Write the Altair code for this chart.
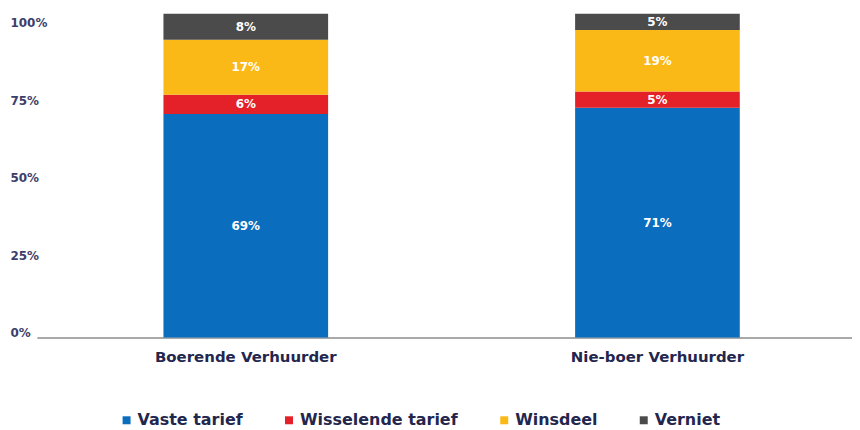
import altair as alt
import pandas as pd

categories = ["Boerende Verhuurder", "Nie-boer Verhuurder"]
series = ["Vaste tarief", "Wisselende tarief", "Winsdeel", "Verniet"]
boerende = [69, 6, 17, 8]
nieboer = [71, 5, 19, 5]
colors = ["#0b6dbd", "#e42128", "#fbb917", "#4b4b4b"]
y_ticks = [0, 25, 50, 75, 100]

rows = []
for cat, vals in zip(categories, [boerende, nieboer]):
    for i, (s, v) in enumerate(zip(series, vals)):
        rows.append({"cat": cat, "series": s, "order": i, "pct": v, "label": f"{v}%"})
df = pd.DataFrame(rows)
ticks_df = pd.DataFrame({"tick": y_ticks})

NAVY = "#23264d"
FONT = "DejaVu Sans"

xenc = alt.X(
    "cat:N",
    sort=categories,
    title=None,
    scale=alt.Scale(paddingInner=0.6, paddingOuter=0.29, align=0.53),
    axis=alt.Axis(
        labelAngle=0,
        labelFont=FONT,
        labelFontWeight="bold",
        labelFontSize=15,
        labelColor=NAVY,
        labelPadding=12,
        labelLimit=400,
        ticks=False,
        domain=True,
        domainColor="#8c8c8c",
        domainWidth=1.5,
        grid=False,
    ),
)

base = alt.Chart(df).transform_stack(
    stack="pct", groupby=["cat"], as_=["y0", "y1"], sort=[alt.SortField("order", order="ascending")]
).transform_calculate(mid="(datum.y0 + datum.y1) / 2")

bars = base.mark_bar().encode(
    x=xenc,
    y=alt.Y("y0:Q", scale=alt.Scale(domain=[0, 100], nice=False), axis=None),
    y2="y1:Q",
    color=alt.Color(
        "series:N",
        scale=alt.Scale(domain=series, range=colors),
        sort=series,
        legend=alt.Legend(
            title=None,
            orient="none",
            direction="horizontal",
            legendX=82,
            legendY=400,
            symbolType="square",
            symbolSize=64,
            symbolStrokeWidth=0,
            labelFont=FONT,
            labelFontWeight="bold",
            labelFontSize=16,
            labelColor=NAVY,
            labelOffset=3,
            columnPadding=38,
        ),
    ),
)

labels = base.mark_text(
    color="white", font=FONT, fontWeight="bold", fontSize=12, baseline="middle"
).encode(
    x=xenc,
    y=alt.Y("mid:Q", scale=alt.Scale(domain=[0, 100], nice=False), axis=None),
    text="label:N",
)

axis_layer = alt.Chart(ticks_df).mark_point(opacity=0).encode(
    y=alt.Y(
        "tick:Q",
        title=None,
        scale=alt.Scale(domain=[0, 104.5], nice=False),
        axis=alt.Axis(
            orient="left",
            values=y_ticks,
            labelExpr="datum.value + '%'",
            labelFont=FONT,
            labelFontWeight="bold",
            labelFontSize=12,
            labelColor="#3b3e6a",
            labelAlign="left",
            labelBaseline="middle",
            labelPadding=27,
            labelOffset=-5,
            ticks=False,
            domain=False,
            grid=False,
        ),
    )
)

chart = (
    alt.layer(alt.layer(bars, labels), axis_layer)
    .resolve_scale(y="independent")
    .properties(
        width=818,
        height=325,
        padding={"left": 2, "top": 5, "right": 0, "bottom": 0},
        view=alt.ViewBackground(stroke="transparent", strokeWidth=0),
    )
    .configure_view(strokeWidth=0, stroke="transparent")
    .configure_axis(grid=False, gridOpacity=0)
    .configure(background="white")
)

chart.save("out.html", embed_options={"renderer": "svg", "actions": False})
